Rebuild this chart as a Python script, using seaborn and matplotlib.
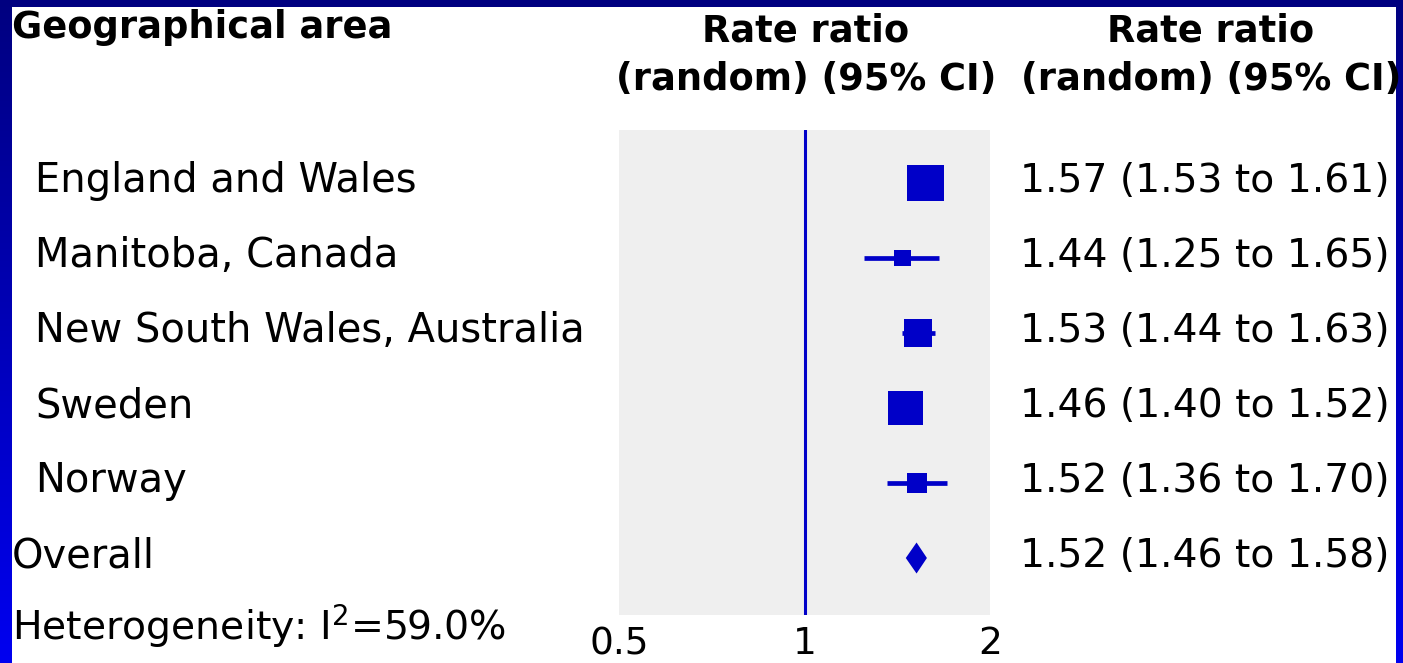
import numpy as np
import pandas as pd
import matplotlib
matplotlib.use("Agg")
import matplotlib.pyplot as plt
import matplotlib.transforms as mtransforms
from matplotlib.colors import LinearSegmentedColormap
from matplotlib.patches import Rectangle
from matplotlib.ticker import NullLocator
import seaborn as sns

# ---- data -------------------------------------------------------------
areas = ["England and Wales", "Manitoba, Canada", "New South Wales, Australia",
         "Sweden", "Norway"]
rate_ratio = [1.57, 1.44, 1.53, 1.46, 1.52]
ci_low = [1.53, 1.25, 1.44, 1.40, 1.36]
ci_high = [1.61, 1.65, 1.63, 1.52, 1.70]
weights = [33.7, 7.1, 19.3, 30.1, 9.8]          # study weights (%)
overall_label = "Overall"
overall_rr, overall_low, overall_high = 1.52, 1.46, 1.58
heterogeneity_i2 = 59.0
x_ticks = [0.5, 1, 2]
x_tick_labels = ["0.5", "1", "2"]

# ---- styling ----------------------------------------------------------
sns.set_theme(style="white")
plt.rcParams["font.family"] = ["DejaVu Sans"]
plt.rcParams["text.color"] = "black"
plt.rcParams["xtick.color"] = "black"
plt.rcParams["mathtext.default"] = "regular"

W, H = 1403, 663
BLUE = "#0000c8"
PANEL = "#efefef"

fig = plt.figure(figsize=(W / 100, H / 100), dpi=100)


def fx(px):
    return px / W


def fy(py):
    return 1 - py / H


# slide-style gradient frame with a white card on top
bg = fig.add_axes([0, 0, 1, 1], zorder=-10)
grad = np.linspace(0, 1, 256).reshape(-1, 1)
frame_cmap = LinearSegmentedColormap.from_list("frame", ["#000080", "#0000f0"])
bg.imshow(grad, aspect="auto", cmap=frame_cmap, extent=[0, 1, 0, 1], origin="upper")
bg.add_patch(Rectangle((fx(12), 0), fx(1396) - fx(12), fy(7), color="white", lw=0))
bg.set_xlim(0, 1)
bg.set_ylim(0, 1)
bg.axis("off")

# ---- forest panel -----------------------------------------------------
ax = fig.add_axes([fx(619), fy(615), fx(990) - fx(619), (615 - 130) / H])
ax.set_facecolor(PANEL)
ax.set_xscale("log")
ax.set_xlim(0.5, 2)
ax.set_ylim(5 + 57 / 75, -53 / 75)
for s in ax.spines.values():
    s.set_visible(False)

rows = list(range(len(areas)))
df = pd.DataFrame({"area": areas, "rr": rate_ratio, "lo": ci_low,
                   "hi": ci_high, "w": weights, "row": rows})

ax.axvline(1, color=BLUE, lw=2.2, zorder=1)
ax.hlines(df["row"], df["lo"], df["hi"], color=BLUE, lw=3.4, zorder=2)

# square side proportional to sqrt(weight), converted to points^2
side_pt = {a: 6.37 * np.sqrt(w) * 0.72 for a, w in zip(areas, weights)}
sns.scatterplot(data=df, x="rr", y="row", size="area",
                sizes={a: v ** 2 for a, v in side_pt.items()},
                marker="s", color=BLUE, linewidth=0, legend=False,
                ax=ax, zorder=3)

# pooled estimate diamond
orow = len(areas)
half_h = 15.5 / 75
ax.fill([overall_low, overall_rr, overall_high, overall_rr],
        [orow, orow - half_h, orow, orow + half_h], color=BLUE, lw=0, zorder=3)

ax.set_xticks(x_ticks)
ax.set_xticklabels(x_tick_labels, fontsize=27)
ax.xaxis.set_minor_locator(NullLocator())
ax.tick_params(axis="x", length=0, pad=8, colors="black")
ax.set_yticks([])
ax.set_xlabel("")
ax.set_ylabel("")

# ---- text columns -----------------------------------------------------
trans = mtransforms.blended_transform_factory(fig.transFigure, ax.transData)
base = 9 / 75
LABEL_FS = 28.8
VALUE_FS = 28.3

fig.text(fx(12), fy(38), "Geographical area", fontsize=26.5, fontweight="bold",
         ha="left", va="baseline")
for cx in (806, 1211):
    fig.text(fx(cx), fy(42), "Rate ratio", fontsize=26.5, fontweight="bold",
             ha="center", va="baseline")
    fig.text(fx(cx), fy(90), "(random) (95% CI)", fontsize=26.5,
             fontweight="bold", ha="center", va="baseline")

for r, a, e, lo, hi in zip(rows, areas, rate_ratio, ci_low, ci_high):
    ax.text(fx(35), r + base, a, transform=trans, fontsize=LABEL_FS,
            ha="left", va="baseline", clip_on=False)
    ax.text(fx(1020), r + base, f"{e:.2f} ({lo:.2f} to {hi:.2f})",
            transform=trans, fontsize=VALUE_FS, ha="left", va="baseline",
            clip_on=False)

ax.text(fx(12), orow + base, overall_label, transform=trans, fontsize=LABEL_FS,
        ha="left", va="baseline", clip_on=False)
ax.text(fx(1020), orow + base,
        f"{overall_rr:.2f} ({overall_low:.2f} to {overall_high:.2f})",
        transform=trans, fontsize=VALUE_FS, ha="left", va="baseline",
        clip_on=False)
ax.text(fx(12), orow + 1 + base - 0.02,
        "Heterogeneity: I$^{2}$" + f"={heterogeneity_i2:.1f}%", transform=trans,
        fontsize=28.4, ha="left", va="baseline", clip_on=False)

fig.savefig("out.png", dpi=100)
